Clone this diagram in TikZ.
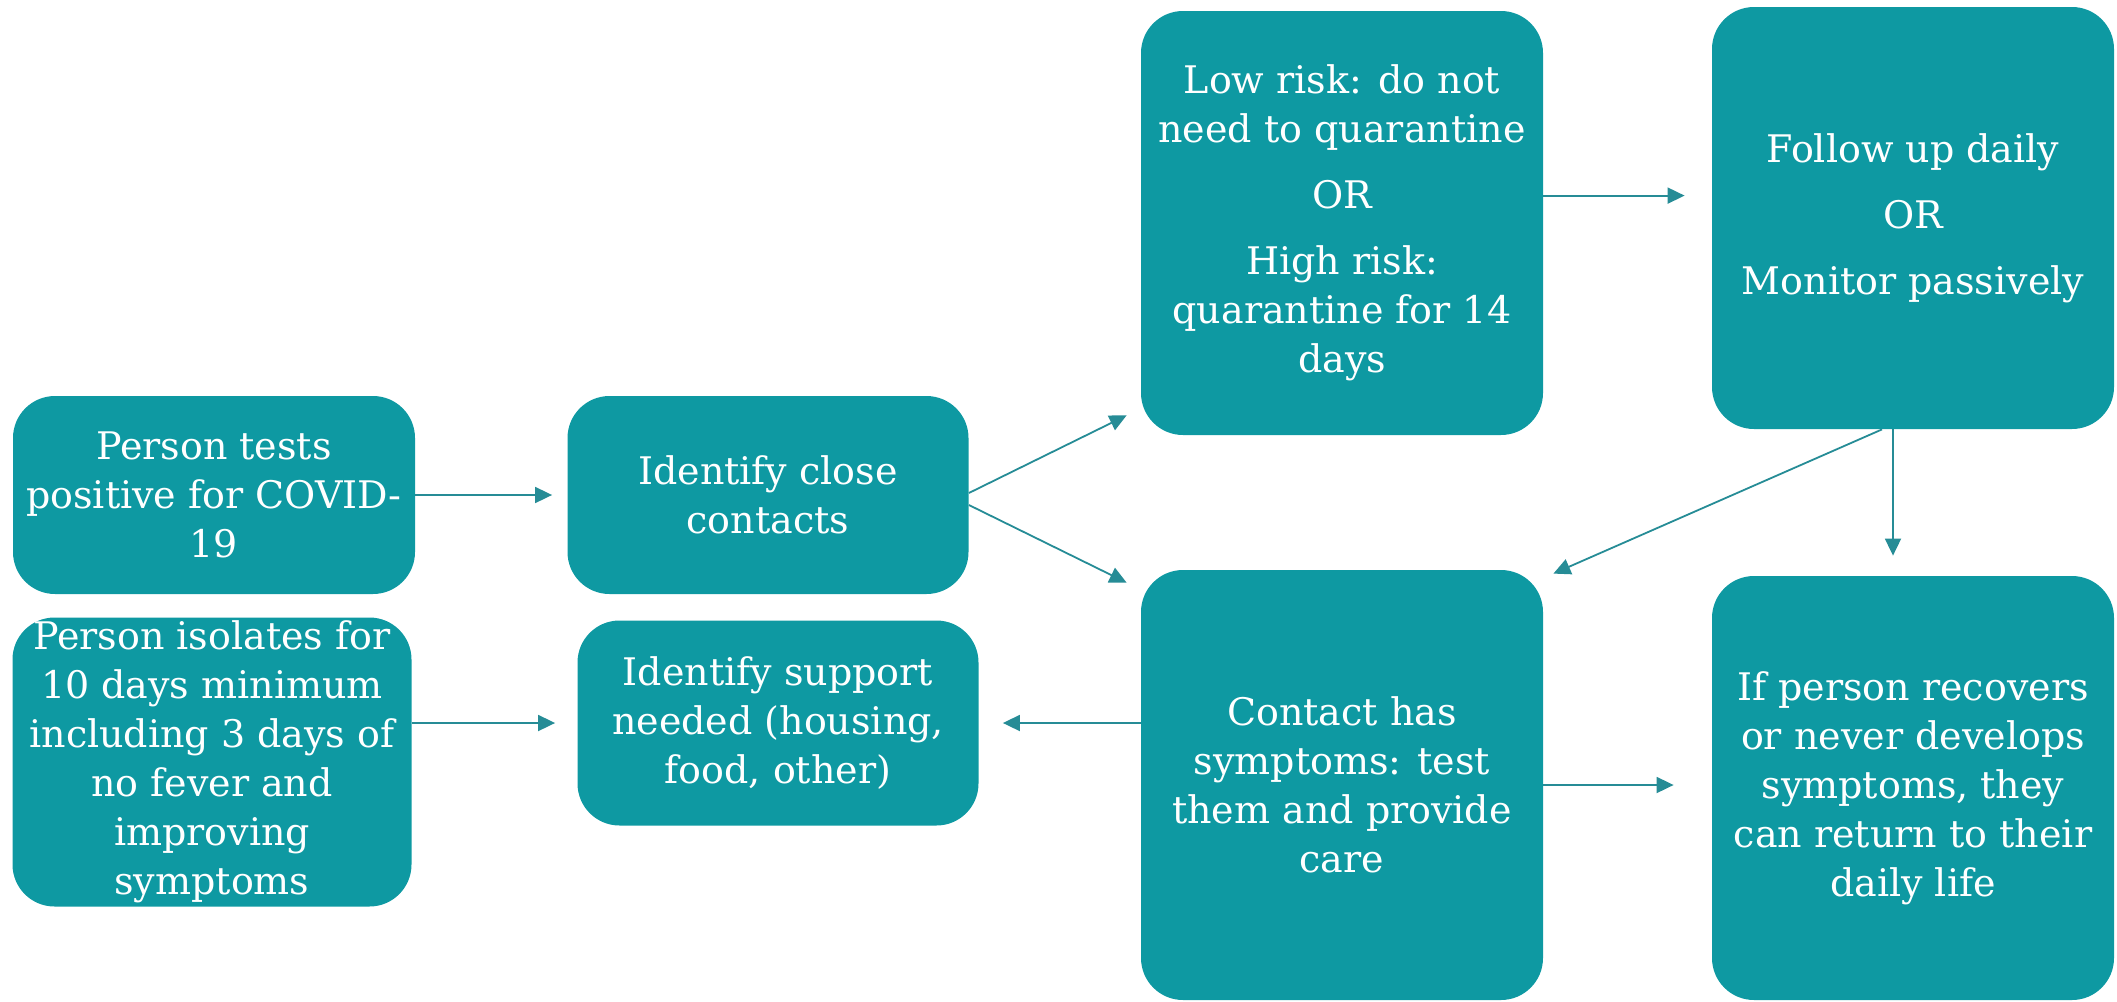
\documentclass[tikz,border=0pt]{standalone}
\usepackage{fontspec}
\setmainfont{DejaVu Serif}
\usetikzlibrary{arrows.meta,calc}
\definecolor{boxteal}{RGB}{14,153,162}
\definecolor{arrteal}{RGB}{38,140,150}
\tikzset{
  stepbox/.style={draw=none, fill=boxteal, rounded corners=21pt, text=white,
    align=center, inner sep=0pt, font=\fontsize{19}{24.5}\selectfont},
  flow/.style={draw=arrteal, line width=0.9pt, -{Triangle[length=8.5pt,width=8pt]}}
}
\begin{document}
\begin{tikzpicture}[x=0.5pt,y=-0.5pt]
\useasboundingbox (0,0) rectangle (2117,1002);
\node[stepbox, minimum width=201pt, minimum height=99pt] (A) at (214,495)
  {Person tests\\ positive for COVID-\\ 19};
\node[stepbox, minimum width=200.5pt, minimum height=99pt] (B) at (768,495)
  {Identify close\\ contacts};
\node[stepbox, minimum width=201pt, minimum height=212pt] (C) at (1342,223)
  {Low risk: do not\\ need to quarantine\\[8.5pt] OR\\[8.5pt] High risk:\\ quarantine for 14\\ days};
\node[stepbox, minimum width=201pt, minimum height=211pt] (D) at (1913,218)
  {Follow up daily\\[8.5pt] OR\\[8.5pt] Monitor passively};
\node[stepbox, minimum width=199.5pt, minimum height=144.5pt] (E) at (212,762)
  {Person isolates for\\ 10 days minimum\\ including 3 days of\\ no fever and\\ improving\\ symptoms};
\node[stepbox, minimum width=200.5pt, minimum height=102.5pt] (F) at (778,723)
  {Identify support\\ needed (housing,\\ food, other)};
\node[stepbox, minimum width=201pt, minimum height=215pt] (G) at (1342,785)
  {Contact has\\ symptoms: test\\ them and provide\\ care};
\node[stepbox, minimum width=201pt, minimum height=212pt] (H) at (1913,788)
  {If person recovers\\ or never develops\\ symptoms, they\\ can return to their\\ daily life};

\coordinate (bOutA) at ($(B.east)+(0,-2)$);
\coordinate (bOutB) at ($(B.east)+(0,10)$);
\coordinate (cIn) at ($(C.south west)+(-14,-20)$);
\coordinate (gIn) at ($(G.north west)+(-14,13)$);
\coordinate (cOut) at ($(C.north east)+(0,185)$);
\coordinate (dOutA) at ($(D.south)+(-31,0)$);
\coordinate (gInR) at ($(G.north east)+(10,4)$);
\coordinate (dOutB) at ($(D.south)+(-20,0)$);
\coordinate (hIn) at ($(H.north)+(-20,0)$);

\draw[flow, shorten >=7.5pt] (A.east) -- (B.west);
\draw[flow, shorten >=11pt] (E.east |- F.west) -- (F.west);
\draw[flow] (bOutA) -- (cIn);
\draw[flow] (bOutB) -- (gIn);
\draw[flow, shorten >=13.5pt] (cOut) -- (cOut -| D.west);
\draw[flow] (dOutA) -- (gInR);
\draw[flow, shorten >=10pt] (dOutB) -- (hIn);
\draw[flow, shorten >=12pt] (G.west |- F.east) -- (F.east);
\draw[flow, shorten >=19pt] (G.east) -- (G.east -| H.west);
\end{tikzpicture}
\end{document}
